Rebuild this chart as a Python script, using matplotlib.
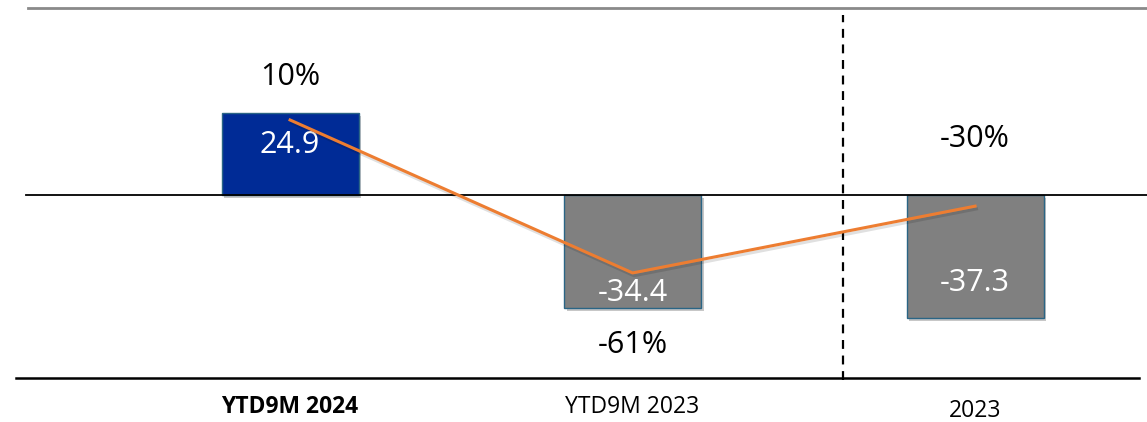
import matplotlib
matplotlib.use("Agg")
import matplotlib.pyplot as plt
import matplotlib.patheffects as pe

categories = ["YTD9M 2024", "YTD9M 2023", "2023"]
values = [24.9, -34.4, -37.3]
changes = [10, -61, -30]
bar_colors = ["#002B96", "#808080", "#808080"]

plt.rcParams['font.family'] = ['Open Sans', 'DejaVu Sans']

fig = plt.figure(figsize=(11.47, 4.22), dpi=100)
ax = fig.add_axes([0, 0, 1, 1])
ax.set_xlim(-0.847, 2.502)
ax.set_ylim(-69.0, 59.3)
ax.axis("off")

x = list(range(len(categories)))
bars = ax.bar(x, values, width=0.4, color=bar_colors, edgecolor="#2A6585",
              linewidth=1.0, zorder=3)
for b in bars:
    b.set_path_effects([pe.SimplePatchShadow(offset=(2, -2), alpha=0.22, shadow_rgbFace="#000000"),
                        pe.Normal()])

# reference lines
ax.plot([-0.77, 2.502], [0, 0], color="black", lw=1.3, zorder=4)
ax.plot([-0.765, 2.502], [56.8, 56.8], color="#8a8a8a", lw=2.0, zorder=1)
ax.plot([-0.80, 2.48], [-55.6, -55.6], color="black", lw=1.8, zorder=1)
ax.plot([1.615, 1.615], [-56.2, 54.7], color="black", lw=1.6, ls=(0, (4, 3)), zorder=2)

# bar values
value_y = [15.2, -29.8, -26.7]
for xi, v, vy in zip(x, values, value_y):
    ax.text(xi, vy, f"{v:.1f}", color="white", fontsize=22, ha="center", va="center", zorder=6)

# growth line on secondary scale
ax2 = ax.twinx()
ax2.set_ylim(-130.2, 65.7)
ax2.axis("off")
ax2.plot(x, changes, color="#ED7D31", lw=2.2, zorder=5,
         path_effects=[pe.SimpleLineShadow(offset=(1, -2), alpha=0.12), pe.Normal()])

change_y = [35.9, -45.6, 17.0]
for xi, c, cy in zip(x, changes, change_y):
    ax.text(xi, cy, f"{c}%", color="black", fontsize=22, ha="center", va="center", zorder=6)

# category labels
label_y = [-64.4, -64.4, -65.6]
for xi, cat, ly in zip(x, categories, label_y):
    ax.text(xi, ly, cat, color="black", fontsize=16.5, ha="center", va="center",
            fontweight="bold" if xi == 0 else "normal")

fig.savefig("out.png", dpi=100)
